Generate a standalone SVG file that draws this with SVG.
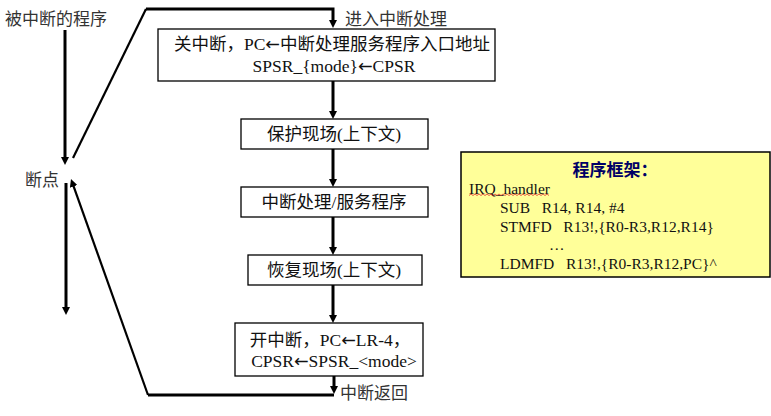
<svg xmlns="http://www.w3.org/2000/svg" width="771" height="416" viewBox="0 0 771 416">
<style>
.box{fill:#fff;stroke:#000;stroke-width:1.3}
.t{font-family:"Liberation Serif","Noto Sans CJK SC",serif;font-size:17.5px;fill:#111;text-anchor:middle;dominant-baseline:central}
.ar{font-family:"DejaVu Sans","Noto Sans CJK SC",sans-serif;font-weight:normal}
.lbl{font-family:"Noto Sans CJK SC",sans-serif;font-size:17px;fill:#333;dominant-baseline:central}
.code{font-family:"Liberation Serif",serif;font-size:15.5px;fill:#111;dominant-baseline:central}
.thick{fill:none;stroke:#000;stroke-width:3}
.thin{fill:none;stroke:#000;stroke-width:2.2}
</style>
<defs>
<marker id="ah" viewBox="0 0 8 8" refX="2" refY="4" markerWidth="8" markerHeight="8" markerUnits="userSpaceOnUse" orient="auto">
<path d="M0,0 L8,4 L0,8 z" fill="#000"/>
</marker>
</defs>
<g id="labels">
<text class="lbl" x="5" y="17">被中断的程序</text>
<text class="lbl" x="345" y="17">进入中断处理</text>
<text class="lbl" x="25" y="178">断点</text>
<text class="lbl" x="340" y="391">中断返回</text>
</g>
<g id="connectors">
<line class="thick" x1="65" y1="30" x2="65" y2="159" marker-end="url(#ah)"/>
<line class="thick" x1="66" y1="183" x2="66" y2="309" marker-end="url(#ah)"/>
<polyline class="thin" points="73,158 146,9"/>
<polyline class="thick" points="146,9 333,9 333,22" marker-end="url(#ah)"/>
<line class="thick" x1="333" y1="81" x2="333" y2="113" marker-end="url(#ah)"/>
<line class="thick" x1="333" y1="149" x2="333" y2="181" marker-end="url(#ah)"/>
<line class="thick" x1="333" y1="217" x2="333" y2="249" marker-end="url(#ah)"/>
<line class="thick" x1="333" y1="285" x2="333" y2="317" marker-end="url(#ah)"/>
<line class="thick" x1="334" y1="376" x2="334" y2="388" marker-end="url(#ah)"/>
<polyline class="thick" points="334,395 148,395"/>
<line class="thin" x1="148" y1="395" x2="73" y2="184.6" marker-end="url(#ah)"/>
</g>
<g id="node1">
<rect class="box" x="158" y="29" width="337" height="52"/>
<text class="t" x="332" y="44">关中断，PC<tspan class="ar">←</tspan>中断处理服务程序入口地址</text>
<text class="t" x="334" y="66">SPSR_{mode}<tspan class="ar">←</tspan>CPSR</text>
</g>
<g id="node2">
<rect class="box" x="241" y="119" width="187" height="30"/>
<text class="t" x="334" y="134">保护现场(上下文)</text>
</g>
<g id="node3">
<rect class="box" x="241" y="187" width="187" height="30"/>
<text class="t" x="334" y="202">中断处理/服务程序</text>
</g>
<g id="node4">
<rect class="box" x="248" y="255" width="174" height="30"/>
<text class="t" x="334" y="270">恢复现场(上下文)</text>
</g>
<g id="node5">
<rect class="box" x="235" y="323" width="188" height="53"/>
<text class="t" x="330" y="340">开中断，PC<tspan class="ar">←</tspan>LR-4，</text>
<text class="t" x="334" y="361">CPSR<tspan class="ar">←</tspan>SPSR_&lt;mode&gt;</text>
</g>
<g id="node6">
<rect x="461" y="152" width="309" height="125" fill="#ffff99" stroke="#000" stroke-width="1.5"/>
<text x="615" y="168" font-family="Noto Sans CJK SC,sans-serif" font-size="17" font-weight="bold" fill="#000066" text-anchor="middle" dominant-baseline="central">程序框架：</text>
<text class="code" x="469" y="188">IRQ_handler</text>
<path d="M469,195.5 l2,-1.5 l2,1.5 l2,-1.5 l2,1.5 l2,-1.5 l2,1.5 l2,-1.5 l2,1.5 l2,-1.5 l2,1.5 l2,-1.5 l2,1.5 l2,-1.5 l2,1.5 l2,-1.5 l2,1.5 l2,-1.5 l2,1.5 l2,-1.5 l2,1.5 l2,-1.5 l2,1.5 l2,-1.5 l2,1.5 l2,-1.5 l2,1.5 l2,-1.5 l2,1.5 l2,-1.5 l2,1.5 l2,-1.5 l2,1.5 l2,-1.5 l2,1.5 l2,-1.5 l2,1.5 l2,-1.5 l2,1.5 l2,-1.5 l2,1.5" fill="none" stroke="#e03030" stroke-width="0.8"/>
<text class="code" x="500" y="207" xml:space="preserve">SUB   R14, R14, #4</text>
<text class="code" x="500" y="226" xml:space="preserve">STMFD   R13!,{R0-R3,R12,R14}</text>
<text class="code" x="549" y="244">…</text>
<text class="code" x="500" y="263" xml:space="preserve">LDMFD   R13!,{R0-R3,R12,PC}^</text>
</g>
</svg>
